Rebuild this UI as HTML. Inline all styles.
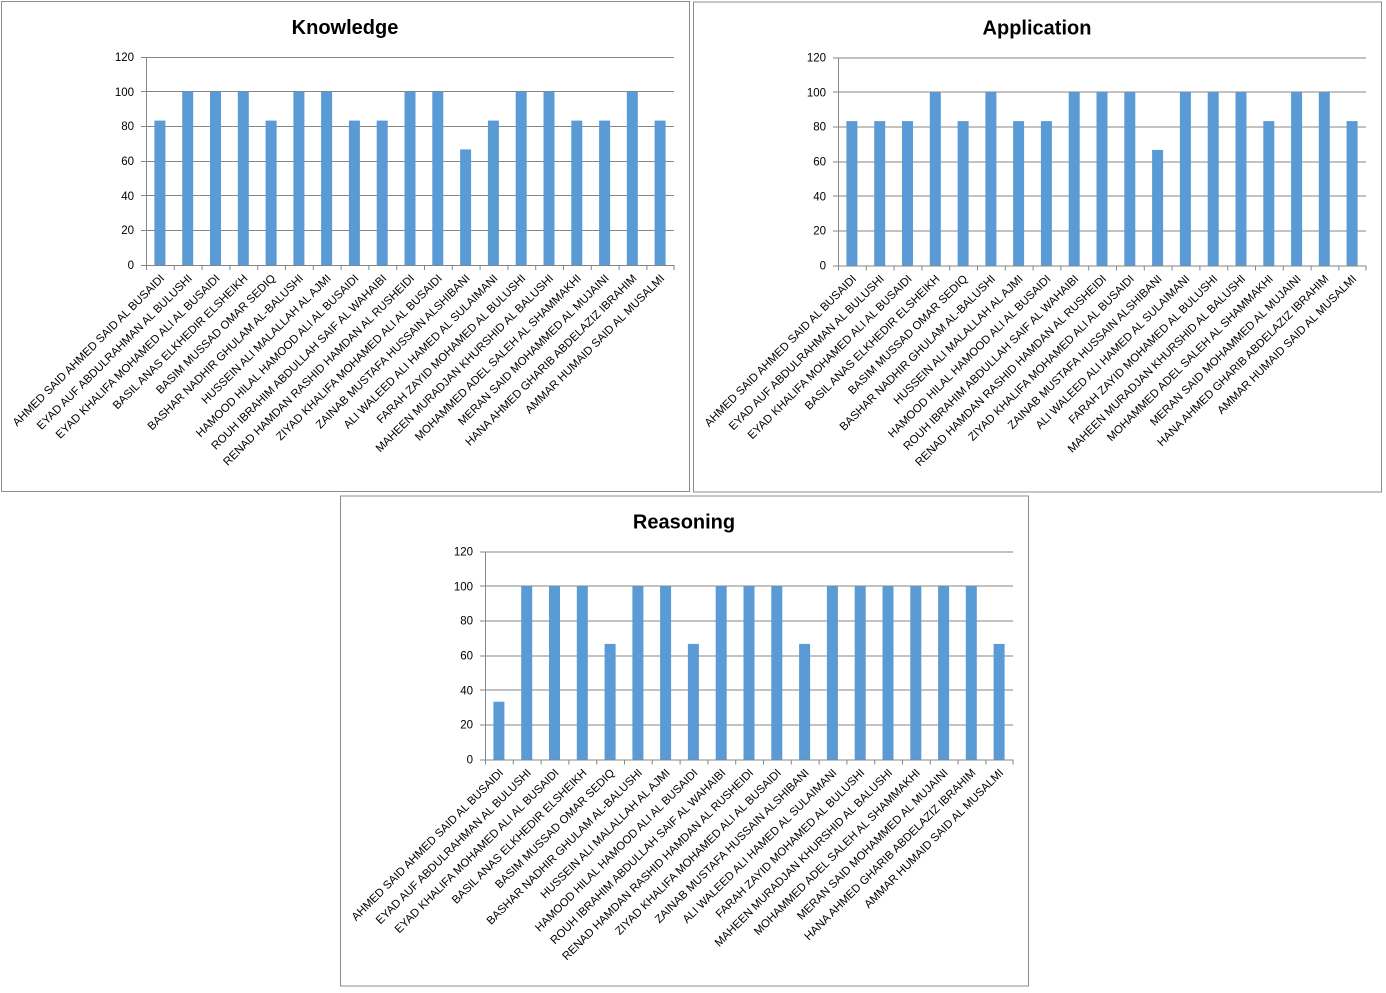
<!DOCTYPE html>
<html><head><meta charset="utf-8"><style>
html,body{margin:0;padding:0;background:#fff;}
svg{display:block;font-family:"Liberation Sans",Calibri,sans-serif;}
.t{font-size:20px;font-weight:bold;fill:#000;text-anchor:middle}
.y{font-size:11.5px;fill:#000;text-anchor:end}
.l{font-size:11.4px;fill:#000;text-anchor:end}
.g{stroke:#868686;stroke-width:1}
.b{fill:#5b9bd5}
</style></head><body>
<svg width="1386" height="993" viewBox="0 0 1386 993">
<defs>
<g id="grid">
<rect x="1.5" y="1.5" width="688" height="490" fill="#fff" stroke="#8c8c8c"/>
<g class="g">
<line x1="141" y1="57.5" x2="674" y2="57.5"/><line x1="141" y1="91.5" x2="674" y2="91.5"/><line x1="141" y1="126.5" x2="674" y2="126.5"/><line x1="141" y1="161.5" x2="674" y2="161.5"/><line x1="141" y1="195.5" x2="674" y2="195.5"/><line x1="141" y1="230.5" x2="674" y2="230.5"/><line x1="141" y1="265.5" x2="674" y2="265.5"/>
<line x1="146.5" y1="57" x2="146.5" y2="270"/>
<path d="M174.3 265v5M202.1 265v5M229.9 265v5M257.7 265v5M285.5 265v5M313.3 265v5M341.1 265v5M368.9 265v5M396.7 265v5M424.5 265v5M452.3 265v5M480.1 265v5M507.9 265v5M535.7 265v5M563.5 265v5M591.3 265v5M619.1 265v5M646.9 265v5M674 265v5"/>
</g>
<text class="y" x="134" y="61">120</text><text class="y" x="134" y="96">100</text><text class="y" x="134" y="130">80</text><text class="y" x="134" y="165">60</text><text class="y" x="134" y="200">40</text><text class="y" x="134" y="234">20</text><text class="y" x="134" y="269">0</text>
</g>
</defs>

<!-- Chart 1 -->
<g>
<use href="#grid"/>
<text class="t" x="345" y="34">Knowledge</text>
<g class="b">
<rect x="154.4" y="120.6" width="11" height="144.4"/><rect x="182.2" y="91.7" width="11" height="173.3"/><rect x="210" y="91.7" width="11" height="173.3"/><rect x="237.8" y="91.7" width="11" height="173.3"/><rect x="265.6" y="120.6" width="11" height="144.4"/><rect x="293.4" y="91.7" width="11" height="173.3"/><rect x="321.1" y="91.7" width="11" height="173.3"/><rect x="348.9" y="120.6" width="11" height="144.4"/><rect x="376.7" y="120.6" width="11" height="144.4"/><rect x="404.5" y="91.7" width="11" height="173.3"/><rect x="432.3" y="91.7" width="11" height="173.3"/><rect x="460.1" y="149.4" width="11" height="115.6"/><rect x="487.9" y="120.6" width="11" height="144.4"/><rect x="515.7" y="91.7" width="11" height="173.3"/><rect x="543.5" y="91.7" width="11" height="173.3"/><rect x="571.3" y="120.6" width="11" height="144.4"/><rect x="599.1" y="120.6" width="11" height="144.4"/><rect x="626.8" y="91.7" width="11" height="173.3"/><rect x="654.6" y="120.6" width="11" height="144.4"/>
</g>
<g class="l">
<text transform="translate(165,279) rotate(-45)">AHMED SAID AHMED  SAID AL BUSAIDI</text>
<text transform="translate(192.7,279) rotate(-45)">EYAD AUF ABDULRAHMAN AL BULUSHI</text>
<text transform="translate(220.5,279) rotate(-45)">EYAD KHALIFA MOHAMED ALI AL BUSAIDI</text>
<text transform="translate(248.3,279) rotate(-45)">BASIL ANAS ELKHEDIR ELSHEIKH</text>
<text transform="translate(276.1,279) rotate(-45)">BASIM MUSSAD OMAR SEDIQ</text>
<text transform="translate(303.9,279) rotate(-45)">BASHAR NADHIR GHULAM AL-BALUSHI</text>
<text transform="translate(331.6,279) rotate(-45)">HUSSEIN ALI MALALLAH AL AJMI</text>
<text transform="translate(359.4,279) rotate(-45)">HAMOOD HILAL HAMOOD ALI  AL BUSAIDI</text>
<text transform="translate(387.2,279) rotate(-45)">ROUH IBRAHIM  ABDULLAH SAIF AL WAHAIBI</text>
<text transform="translate(415,279) rotate(-45)">RENAD HAMDAN RASHID HAMDAN AL RUSHEIDI</text>
<text transform="translate(442.8,279) rotate(-45)">ZIYAD KHALIFA MOHAMED ALI AL BUSAIDI</text>
<text transform="translate(470.6,279) rotate(-45)">ZAINAB MUSTAFA HUSSAIN ALSHIBANI</text>
<text transform="translate(498.4,279) rotate(-45)">ALI WALEED ALI HAMED  AL SULAIMANI</text>
<text transform="translate(526.2,279) rotate(-45)">FARAH ZAYID MOHAMED AL BULUSHI</text>
<text transform="translate(554,279) rotate(-45)">MAHEEN MURADJAN KHURSHID  AL BALUSHI</text>
<text transform="translate(581.8,279) rotate(-45)">MOHAMMED ADEL SALEH AL SHAMMAKHI</text>
<text transform="translate(609.6,279) rotate(-45)">MERAN SAID MOHAMMED AL MUJAINI</text>
<text transform="translate(637.3,279) rotate(-45)">HANA AHMED GHARIB ABDELAZIZ IBRAHIM</text>
<text transform="translate(665.1,279) rotate(-45)">AMMAR HUMAID SAID AL MUSALMI</text>
</g>
</g>

<!-- Chart 2 -->
<g transform="translate(692,0.5)">
<use href="#grid"/>
<text class="t" x="345" y="34">Application</text>
<g class="b">
<rect x="154.4" y="120.6" width="11" height="144.4"/><rect x="182.2" y="120.6" width="11" height="144.4"/><rect x="210" y="120.6" width="11" height="144.4"/><rect x="237.8" y="91.7" width="11" height="173.3"/><rect x="265.6" y="120.6" width="11" height="144.4"/><rect x="293.4" y="91.7" width="11" height="173.3"/><rect x="321.1" y="120.6" width="11" height="144.4"/><rect x="348.9" y="120.6" width="11" height="144.4"/><rect x="376.7" y="91.7" width="11" height="173.3"/><rect x="404.5" y="91.7" width="11" height="173.3"/><rect x="432.3" y="91.7" width="11" height="173.3"/><rect x="460.1" y="149.4" width="11" height="115.6"/><rect x="487.9" y="91.7" width="11" height="173.3"/><rect x="515.7" y="91.7" width="11" height="173.3"/><rect x="543.5" y="91.7" width="11" height="173.3"/><rect x="571.3" y="120.6" width="11" height="144.4"/><rect x="599.1" y="91.7" width="11" height="173.3"/><rect x="626.8" y="91.7" width="11" height="173.3"/><rect x="654.6" y="120.6" width="11" height="144.4"/>
</g>
<g class="l">
<text transform="translate(165,279) rotate(-45)">AHMED SAID AHMED  SAID AL BUSAIDI</text>
<text transform="translate(192.7,279) rotate(-45)">EYAD AUF ABDULRAHMAN AL BULUSHI</text>
<text transform="translate(220.5,279) rotate(-45)">EYAD KHALIFA MOHAMED ALI AL BUSAIDI</text>
<text transform="translate(248.3,279) rotate(-45)">BASIL ANAS ELKHEDIR ELSHEIKH</text>
<text transform="translate(276.1,279) rotate(-45)">BASIM MUSSAD OMAR SEDIQ</text>
<text transform="translate(303.9,279) rotate(-45)">BASHAR NADHIR GHULAM AL-BALUSHI</text>
<text transform="translate(331.6,279) rotate(-45)">HUSSEIN ALI MALALLAH AL AJMI</text>
<text transform="translate(359.4,279) rotate(-45)">HAMOOD HILAL HAMOOD ALI  AL BUSAIDI</text>
<text transform="translate(387.2,279) rotate(-45)">ROUH IBRAHIM  ABDULLAH SAIF AL WAHAIBI</text>
<text transform="translate(415,279) rotate(-45)">RENAD HAMDAN RASHID HAMDAN AL RUSHEIDI</text>
<text transform="translate(442.8,279) rotate(-45)">ZIYAD KHALIFA MOHAMED ALI AL BUSAIDI</text>
<text transform="translate(470.6,279) rotate(-45)">ZAINAB MUSTAFA HUSSAIN ALSHIBANI</text>
<text transform="translate(498.4,279) rotate(-45)">ALI WALEED ALI HAMED  AL SULAIMANI</text>
<text transform="translate(526.2,279) rotate(-45)">FARAH ZAYID MOHAMED AL BULUSHI</text>
<text transform="translate(554,279) rotate(-45)">MAHEEN MURADJAN KHURSHID  AL BALUSHI</text>
<text transform="translate(581.8,279) rotate(-45)">MOHAMMED ADEL SALEH AL SHAMMAKHI</text>
<text transform="translate(609.6,279) rotate(-45)">MERAN SAID MOHAMMED AL MUJAINI</text>
<text transform="translate(637.3,279) rotate(-45)">HANA AHMED GHARIB ABDELAZIZ IBRAHIM</text>
<text transform="translate(665.1,279) rotate(-45)">AMMAR HUMAID SAID AL MUSALMI</text>
</g>
</g>

<!-- Chart 3 -->
<g transform="translate(339,494.5)">
<use href="#grid"/>
<text class="t" x="345" y="34">Reasoning</text>
<g class="b">
<rect x="154.4" y="207.2" width="11" height="57.8"/><rect x="182.2" y="91.7" width="11" height="173.3"/><rect x="210" y="91.7" width="11" height="173.3"/><rect x="237.8" y="91.7" width="11" height="173.3"/><rect x="265.6" y="149.4" width="11" height="115.6"/><rect x="293.4" y="91.7" width="11" height="173.3"/><rect x="321.1" y="91.7" width="11" height="173.3"/><rect x="348.9" y="149.4" width="11" height="115.6"/><rect x="376.7" y="91.7" width="11" height="173.3"/><rect x="404.5" y="91.7" width="11" height="173.3"/><rect x="432.3" y="91.7" width="11" height="173.3"/><rect x="460.1" y="149.4" width="11" height="115.6"/><rect x="487.9" y="91.7" width="11" height="173.3"/><rect x="515.7" y="91.7" width="11" height="173.3"/><rect x="543.5" y="91.7" width="11" height="173.3"/><rect x="571.3" y="91.7" width="11" height="173.3"/><rect x="599.1" y="91.7" width="11" height="173.3"/><rect x="626.8" y="91.7" width="11" height="173.3"/><rect x="654.6" y="149.4" width="11" height="115.6"/>
</g>
<g class="l">
<text transform="translate(165,279) rotate(-45)">AHMED SAID AHMED  SAID AL BUSAIDI</text>
<text transform="translate(192.7,279) rotate(-45)">EYAD AUF ABDULRAHMAN AL BULUSHI</text>
<text transform="translate(220.5,279) rotate(-45)">EYAD KHALIFA MOHAMED ALI AL BUSAIDI</text>
<text transform="translate(248.3,279) rotate(-45)">BASIL ANAS ELKHEDIR ELSHEIKH</text>
<text transform="translate(276.1,279) rotate(-45)">BASIM MUSSAD OMAR SEDIQ</text>
<text transform="translate(303.9,279) rotate(-45)">BASHAR NADHIR GHULAM AL-BALUSHI</text>
<text transform="translate(331.6,279) rotate(-45)">HUSSEIN ALI MALALLAH AL AJMI</text>
<text transform="translate(359.4,279) rotate(-45)">HAMOOD HILAL HAMOOD ALI  AL BUSAIDI</text>
<text transform="translate(387.2,279) rotate(-45)">ROUH IBRAHIM  ABDULLAH SAIF AL WAHAIBI</text>
<text transform="translate(415,279) rotate(-45)">RENAD HAMDAN RASHID HAMDAN AL RUSHEIDI</text>
<text transform="translate(442.8,279) rotate(-45)">ZIYAD KHALIFA MOHAMED ALI AL BUSAIDI</text>
<text transform="translate(470.6,279) rotate(-45)">ZAINAB MUSTAFA HUSSAIN ALSHIBANI</text>
<text transform="translate(498.4,279) rotate(-45)">ALI WALEED ALI HAMED  AL SULAIMANI</text>
<text transform="translate(526.2,279) rotate(-45)">FARAH ZAYID MOHAMED AL BULUSHI</text>
<text transform="translate(554,279) rotate(-45)">MAHEEN MURADJAN KHURSHID  AL BALUSHI</text>
<text transform="translate(581.8,279) rotate(-45)">MOHAMMED ADEL SALEH AL SHAMMAKHI</text>
<text transform="translate(609.6,279) rotate(-45)">MERAN SAID MOHAMMED AL MUJAINI</text>
<text transform="translate(637.3,279) rotate(-45)">HANA AHMED GHARIB ABDELAZIZ IBRAHIM</text>
<text transform="translate(665.1,279) rotate(-45)">AMMAR HUMAID SAID AL MUSALMI</text>
</g>
</g>
</svg>
</body></html>
